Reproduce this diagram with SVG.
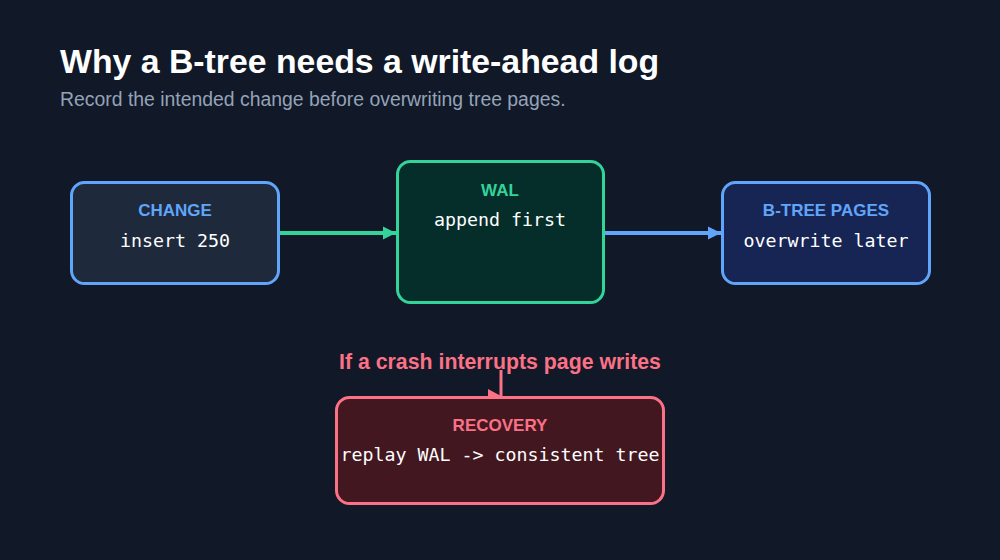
<svg xmlns="http://www.w3.org/2000/svg" width="1000" height="560" viewBox="0 0 1000 560">
<style>
.title{font-family:"Liberation Sans",Arial,sans-serif;font-weight:bold;font-size:33.8px;fill:#ffffff}
.sub{font-family:"Liberation Sans",Arial,sans-serif;font-size:19.4px;fill:#94a3b8}
.lbl{font-family:"Liberation Sans",Arial,sans-serif;font-weight:bold;font-size:17px;text-anchor:middle}
.mono{font-family:"DejaVu Sans Mono",monospace;font-size:18.3px;fill:#ffffff;text-anchor:middle}
.box{stroke-width:3}
</style>
<defs>
<marker id="ag" viewBox="0 0 10 10" refX="10" refY="5" markerWidth="13" markerHeight="14" markerUnits="userSpaceOnUse" orient="auto"><path d="M0 0L10 5L0 10z" fill="#34d399"/></marker>
<marker id="ab" viewBox="0 0 10 10" refX="10" refY="5" markerWidth="13" markerHeight="14" markerUnits="userSpaceOnUse" orient="auto"><path d="M0 0L10 5L0 10z" fill="#60a5fa"/></marker>
</defs>
<rect width="1000" height="560" fill="#111827"/>
<text class="title" x="60" y="73">Why a B-tree needs a write-ahead log</text>
<text class="sub" x="60" y="106">Record the intended change before overwriting tree pages.</text>
<g id="connectors">
<line x1="280" y1="233" x2="396" y2="233" stroke="#34d399" stroke-width="4" marker-end="url(#ag)"/>
<line x1="605" y1="233" x2="721" y2="233" stroke="#60a5fa" stroke-width="4" marker-end="url(#ab)"/>
<line x1="501" y1="370" x2="501" y2="397" stroke="#fb7185" stroke-width="3"/>
<path d="M488 389L501 396L488 403z" fill="#fb7185"/>
</g>
<g id="change">
<rect class="box" x="71.5" y="182.5" width="207" height="101" rx="13" fill="#1e293b" stroke="#60a5fa"/>
<text class="lbl" x="175" y="216" fill="#60a5fa">CHANGE</text>
<text class="mono" x="175" y="247">insert 250</text>
</g>
<g id="wal">
<rect class="box" x="397.5" y="161.5" width="206" height="141" rx="13" fill="#052e2b" stroke="#34d399"/>
<text class="lbl" x="500" y="196" fill="#34d399">WAL</text>
<text class="mono" x="500" y="226">append first</text>
</g>
<g id="btree">
<rect class="box" x="722.5" y="182.5" width="207" height="101" rx="13" fill="#172554" stroke="#60a5fa"/>
<text class="lbl" x="826" y="216" fill="#60a5fa">B-TREE PAGES</text>
<text class="mono" x="826" y="247">overwrite later</text>
</g>
<text id="crash-label" x="500" y="369" font-family="Liberation Sans,Arial,sans-serif" font-weight="bold" font-size="21.3" fill="#fb7185" text-anchor="middle">If a crash interrupts page writes</text>
<g id="recovery">
<rect class="box" x="336.5" y="397.5" width="327" height="106" rx="13" fill="#431720" stroke="#fb7185"/>
<text class="lbl" x="500" y="431" fill="#fb7185">RECOVERY</text>
<text class="mono" x="500" y="461">replay WAL -&gt; consistent tree</text>
</g>
</svg>
